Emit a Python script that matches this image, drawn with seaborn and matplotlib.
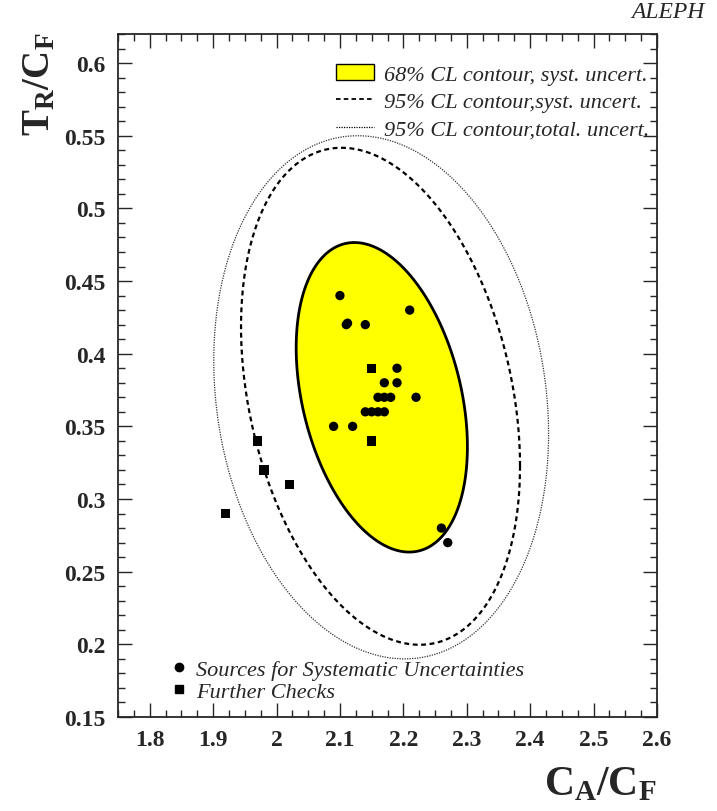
import numpy as np
import matplotlib.pyplot as plt
import seaborn as sns
from matplotlib.lines import Line2D
from matplotlib.patches import Patch
from matplotlib.ticker import MultipleLocator

# Style
sns.set_style("ticks")
plt.rcParams["font.family"] = ["Liberation Serif", "DejaVu Serif"]
plt.rcParams["mathtext.fontset"] = "custom"
plt.rcParams["mathtext.rm"] = "Liberation Serif"
plt.rcParams["mathtext.bf"] = "Liberation Serif:bold"
plt.rcParams["mathtext.it"] = "Liberation Serif:italic"

# Sources for systematic uncertainties (C_A/C_F, T_R/C_F)
syst_ca = [2.10, 2.21, 2.11, 2.112, 2.14, 2.19, 2.17, 2.19, 2.16, 2.17,
           2.18, 2.22, 2.14, 2.15, 2.16, 2.17, 2.09, 2.12, 2.26, 2.27]
syst_tr = [0.44, 0.43, 0.42, 0.421, 0.42, 0.39, 0.38, 0.38, 0.37, 0.37,
           0.37, 0.37, 0.36, 0.36, 0.36, 0.36, 0.35, 0.35, 0.28, 0.27]

# Further checks
check_ca = [2.15, 2.15, 1.97, 1.98, 2.02, 1.92]
check_tr = [0.39, 0.34, 0.34, 0.32, 0.31, 0.29]

# Contours: centre, half-extent in C_A/C_F, half-extent in T_R/C_F, correlation
c68_syst = (2.166, 0.370, 0.135, 0.1065, -0.32)
c95_syst = (2.164, 0.3707, 0.220, 0.171, -0.28)
c95_total = (2.165, 0.370, 0.264, 0.180, -0.14)

legend_labels = ["68% CL contour, syst. uncert.",
                 "95% CL contour,syst. uncert.",
                 "95% CL contour,total. uncert."]


def ellipse(cx, cy, a, b, rho, n=400):
    t = np.linspace(0, 2 * np.pi, n)
    x = cx + a * np.cos(t)
    y = cy + b * (rho * np.cos(t) + np.sqrt(1 - rho ** 2) * np.sin(t))
    return x, y


fig = plt.figure(figsize=(7.17, 8.12), dpi=100)
ax = fig.add_axes([118 / 717, 1 - 718 / 812, (657 - 118) / 717, (718 - 35) / 812])

x68, y68 = ellipse(*c68_syst)
ax.fill(x68, y68, facecolor="#ffff00", edgecolor="black", lw=2, zorder=1)
xs, ys = ellipse(*c95_syst)
ax.plot(xs, ys, color="black", lw=1.6, ls=(0, (2.2, 1.6)), zorder=2)
xt, yt = ellipse(*c95_total)
ax.plot(xt, yt, color="#333333", lw=0.9, ls=(0, (1, 1)), zorder=2)

sns.scatterplot(x=syst_ca, y=syst_tr, marker="o", color="black", s=45,
                edgecolor="none", ax=ax, zorder=3)
sns.scatterplot(x=check_ca, y=check_tr, marker="s", color="black", s=45,
                edgecolor="none", ax=ax, zorder=3)

ax.set_xlim(1.75, 2.6)
ax.set_ylim(0.15, 0.62)
ax.xaxis.set_major_locator(MultipleLocator(0.1))
ax.xaxis.set_minor_locator(MultipleLocator(0.025))
ax.yaxis.set_major_locator(MultipleLocator(0.05))
ax.yaxis.set_minor_locator(MultipleLocator(0.01))
ax.set_xticklabels([f"{v:g}" for v in ax.get_xticks()])
ax.set_yticklabels([f"{v:g}" for v in ax.get_yticks()])
ax.tick_params(which="both", direction="in", top=True, right=True, width=1)
ax.tick_params(which="major", length=10, labelsize=17, pad=9)
ax.tick_params(which="minor", length=5)
for lab in ax.get_xticklabels() + ax.get_yticklabels():
    lab.set_fontweight("bold")
for sp in ax.spines.values():
    sp.set_linewidth(1.3)

# Legends
handles = [Patch(facecolor="#ffff00", edgecolor="black", lw=1),
           Line2D([], [], color="black", lw=1.3, ls=(0, (2.5, 1.8))),
           Line2D([], [], color="black", lw=0.9, ls=(0, (1, 1)))]
leg1 = ax.legend(handles, legend_labels, loc="upper right", frameon=False,
                 prop={"style": "italic", "size": 16}, handlelength=1.7,
                 handletextpad=0.45, labelspacing=0.3,
                 bbox_to_anchor=(1.01, 0.975), borderaxespad=0.2)
ax.add_artist(leg1)
mk = [Line2D([], [], marker="o", color="black", ls="none", markersize=6),
      Line2D([], [], marker="s", color="black", ls="none", markersize=6)]
ax.legend(mk, ["Sources for Systematic Uncertainties", "Further Checks"],
          loc="lower left", frameon=False, prop={"style": "italic", "size": 16},
          handlelength=0.9, handletextpad=0.3, labelspacing=0.05,
          bbox_to_anchor=(0.07, 0.003), borderaxespad=0.2)

# Axis titles
fig.text(40 / 717, 1 - 33 / 812, r"$\mathbf{T_R/C_F}$", rotation=90,
         ha="center", va="top", fontsize=28)
fig.text(657 / 717, 1 - 766 / 812, r"$\mathbf{C_A/C_F}$", ha="right",
         va="top", fontsize=30)
fig.text(705 / 717, 1 - 12 / 812, "ALEPH", ha="right", va="center",
         fontsize=17, style="italic")

fig.savefig("out.png", dpi=100)
